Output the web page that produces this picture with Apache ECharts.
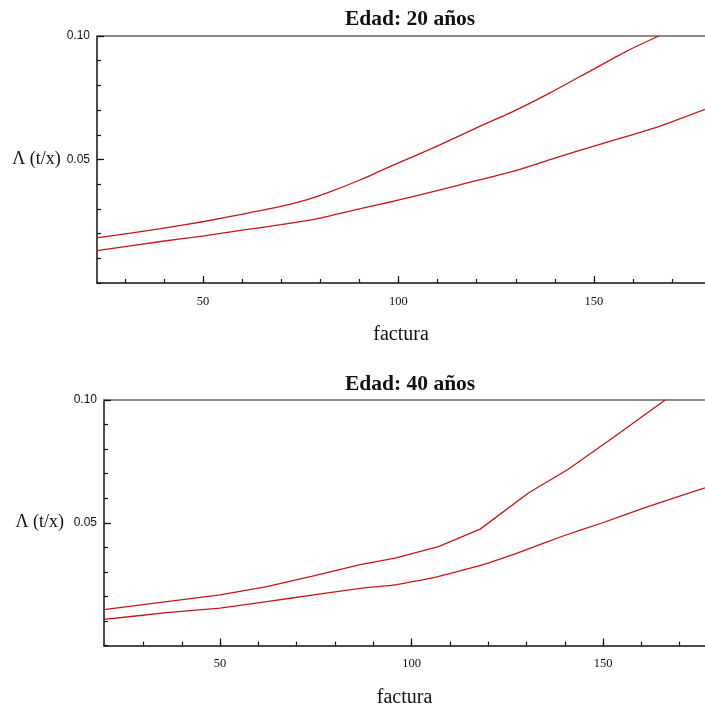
<!DOCTYPE html>
<html>
<head>
<meta charset="utf-8">
<script src="https://cdn.jsdelivr.net/npm/echarts@6/dist/echarts.min.js"></script>
<style>
  html, body { margin: 0; padding: 0; background: #fff; }
  #chart { width: 705px; height: 710px; }
</style>
</head>
<body>
<div id="chart"></div>
<script>
// ---- Data ----
const titles = ['Edad: 20 años', 'Edad: 40 años'];
const xName = 'factura';
const yName = 'Λ (t/x)';

const xMinorTicks = [30, 40, 50, 60, 70, 80, 90, 100, 110, 120, 130, 140, 150, 160, 170];
const xMajorTicks = [50, 100, 150];
const yMajorTicks = [0.05, 0.10];

// Edad 20: upper curve
const x20Sup = [22.9, 24.7, 39.2, 50.3, 60.5, 69.9, 76.7, 81.8, 90.3, 98.8, 109.9, 120.1, 129.5, 138.9, 148.3, 158.5, 166.6];
const y20Sup = [0.0184, 0.0187, 0.0220, 0.0249, 0.0280, 0.0310, 0.0338, 0.0365, 0.0418, 0.0478, 0.0554, 0.0629, 0.0696, 0.0771, 0.0852, 0.0940, 0.1000];
// Edad 20: lower curve
const x20Inf = [22.9, 39.2, 50.3, 60.5, 69.9, 80.1, 90.3, 98.8, 109.1, 119.3, 129.5, 139.8, 150.0, 160.2, 167.1, 178.4];
const y20Inf = [0.0131, 0.0168, 0.0191, 0.0215, 0.0236, 0.0263, 0.0301, 0.0331, 0.0371, 0.0412, 0.0453, 0.0505, 0.0554, 0.0602, 0.0636, 0.0703];
// Edad 40: upper curve
const x40Sup = [19.7, 36.1, 50.0, 62.2, 74.4, 86.6, 95.7, 107.0, 117.9, 130.5, 141.0, 153.1, 166.2];
const y40Sup = [0.0146, 0.0179, 0.0206, 0.0240, 0.0284, 0.0329, 0.0356, 0.0403, 0.0474, 0.0621, 0.0719, 0.0852, 0.1000];
// Edad 40: lower curve
const x40Inf = [19.7, 36.1, 50.0, 62.2, 74.4, 86.6, 95.7, 107.0, 118.7, 128.8, 139.2, 149.7, 161.9, 176.6];
const y40Inf = [0.0106, 0.0134, 0.0152, 0.0179, 0.0206, 0.0233, 0.0247, 0.0281, 0.0329, 0.0383, 0.0444, 0.0499, 0.0567, 0.0642];

const xRanges = [[22.9, 178.4], [19.7, 176.6]];

// ---- Build options ----
const pairs = (xs, ys) => xs.map((x, i) => [x, ys[i]]);
const lineColor = '#c81616';
const serif = '"Liberation Serif", "DejaVu Serif", serif';
const sans = '"Liberation Sans", Arial, sans-serif';

const grids = [
  { left: 97, right: 0, top: 36, height: 247 },
  { left: 104, right: 0, top: 400, height: 245.5 }
];
const yNameGaps = [36, 40];

const xAxes = [];
const yAxes = [];
grids.forEach((g, gi) => {
  const [mn, mx] = xRanges[gi];
  xAxes.push({
    type: 'value', gridIndex: gi, position: 'bottom', min: mn, max: mx,
    axisLine: { show: true, lineStyle: { color: '#111', width: 1.5 } },
    axisTick: { show: true, inside: true, length: 4, customValues: xMinorTicks, lineStyle: { color: '#111', width: 1.2 } },
    axisLabel: { show: false },
    splitLine: { show: false }
  });
  xAxes.push({
    type: 'value', gridIndex: gi, position: 'bottom', offset: 0, min: mn, max: mx,
    axisLine: { show: false },
    axisTick: { show: true, inside: true, length: 7, customValues: xMajorTicks, lineStyle: { color: '#111', width: 1.2 } },
    axisLabel: { show: true, customValues: xMajorTicks, margin: 12, color: '#111', fontFamily: serif, fontSize: 12.5 },
    splitLine: { show: false },
    name: xName, nameLocation: 'middle', nameGap: 42,
    nameTextStyle: { fontFamily: serif, fontSize: 20, color: '#111' }
  });
  xAxes.push({
    type: 'value', gridIndex: gi, position: 'top', min: mn, max: mx,
    axisLine: { show: true, lineStyle: { color: '#8a8a8a', width: 2 } },
    axisTick: { show: false }, axisLabel: { show: false }, splitLine: { show: false }
  });

  yAxes.push({
    type: 'value', gridIndex: gi, position: 'left', min: 0, max: 0.1, interval: 0.01,
    axisLine: { show: true, lineStyle: { color: '#111', width: 1.5 } },
    axisTick: { show: true, inside: true, length: 4, lineStyle: { color: '#111', width: 1.2 } },
    axisLabel: { show: false },
    splitLine: { show: false }
  });
  yAxes.push({
    type: 'value', gridIndex: gi, position: 'left', offset: 0, min: 0, max: 0.1,
    axisLine: { show: false },
    axisTick: { show: true, inside: true, length: 7, customValues: yMajorTicks, lineStyle: { color: '#111', width: 1.2 } },
    axisLabel: { show: true, customValues: yMajorTicks, margin: 7, color: '#111', fontFamily: sans, fontSize: 12,
      formatter: v => v.toFixed(2) },
    splitLine: { show: false },
    name: yName, nameLocation: 'middle', nameRotate: 0, nameGap: yNameGaps[gi],
    nameTextStyle: { fontFamily: serif, fontSize: 18, color: '#111', align: 'right', verticalAlign: 'middle' }
  });
});

const mkSeries = (data, gi, smooth) => ({
  type: 'line', data, xAxisIndex: gi * 3, yAxisIndex: gi * 2,
  showSymbol: false, symbol: 'none', smooth: smooth,
  lineStyle: { color: lineColor, width: 1.3 },
  clip: true, silent: true, animation: false
});

const titleStyle = { fontFamily: serif, fontWeight: 'bold', fontSize: 21.5, color: '#111' };
const option = {
  backgroundColor: '#ffffff',
  animation: false,
  title: [
    { text: titles[0], left: 340, top: 3, textStyle: titleStyle },
    { text: titles[1], left: 340, top: 368, textStyle: titleStyle }
  ],
  grid: grids,
  xAxis: xAxes,
  yAxis: yAxes,
  series: [
    mkSeries(pairs(x20Sup, y20Sup), 0, 0.2),
    mkSeries(pairs(x20Inf, y20Inf), 0, 0.2),
    mkSeries(pairs(x40Sup, y40Sup), 1, false),
    mkSeries(pairs(x40Inf, y40Inf), 1, 0.1)
  ]
};

const chart = echarts.init(document.getElementById('chart'), null, { renderer: 'canvas' });
chart.setOption(option);
</script>
</body>
</html>
